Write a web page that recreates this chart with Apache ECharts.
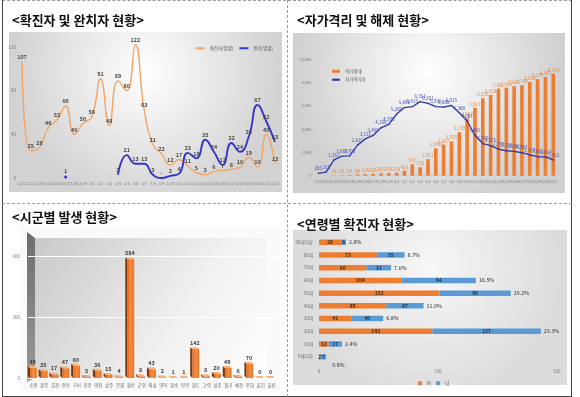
<!DOCTYPE html>
<html>
<head>
<meta charset="utf-8">
<script src="https://cdn.jsdelivr.net/npm/echarts@6/dist/echarts.min.js"></script>
<style>
  body { margin: 0; width: 580px; height: 397px; background: #fff; position: relative; overflow: hidden; }
  .c { position: absolute; }
  #c1 { left: 0; top: 0; width: 287px; height: 203px; }
  #c2 { left: 287px; top: 0; width: 293px; height: 203px; }
  #c3 { left: 0; top: 203px; width: 287px; height: 194px; }
  #c4 { left: 287px; top: 203px; width: 293px; height: 194px; }
  .ln { position: absolute; }
</style>
</head>
<body>
<div id="c1" class="c"></div>
<div id="c2" class="c"></div>
<div id="c3" class="c"></div>
<div id="c4" class="c"></div>
<div class="ln" style="left:2px;top:0;width:570px;border-top:1px dashed #9a9a9a"></div>
<div class="ln" style="left:2px;top:0;height:397px;border-left:1px solid #444"></div>
<div class="ln" style="left:571px;top:0;height:397px;border-left:1px solid #444"></div>
<div class="ln" style="left:2px;top:396px;width:570px;border-top:1px solid #444"></div>
<div class="ln" style="left:287px;top:0;height:397px;border-left:1px dashed #9a9a9a"></div>
<div class="ln" style="left:2px;top:203px;width:570px;border-top:1px dashed #9a9a9a"></div>
<script>
// chart 1: daily confirmed / recovered
const days1 = ['2/22','2/23','2/24','2/25','2/26','2/27','2/28','2/29','3/1','3/2','3/3','3/4','3/5','3/6','3/7',
  '3/8','3/9','3/10','3/11','3/12','3/13','3/14','3/15','3/16','3/17','3/18','3/19','3/20','3/21','3/22'];
const confirmed = [107,25,28,46,53,66,40,50,56,91,48,89,80,122,63,31,22,12,17,11,5,3,6,7,8,10,19,10,40,13];
const recovered = [null,null,null,null,null,1,null,null,null,null,null,3,21,13,13,3,0,2,4,23,18,35,24,12,32,24,38,67,52,33];

// chart 2: self-quarantine
const days2 = ['2/20','2/21','2/22','2/23','2/24','2/25','2/26','2/27','2/28','2/29','3/1','3/2','3/3','3/4','3/5','3/6',
  '3/7','3/8','3/9','3/10','3/11','3/12','3/13','3/14','3/15','3/16','3/17','3/18','3/19','3/20','3/21'];
const released = [null,null,25,32,57,98,126,166,203,225,254,421,971,720,1413,2340,2667,2935,3719,4907,5817,6633,6920,7461,7542,7668,7750,8030,8279,8462,8750];
const quarantined = [205,315,1351,1669,1703,2620,3151,3450,4106,4390,5288,5842,5915,6351,6201,5926,5880,6015,5388,4687,3465,2750,2575,2270,2138,2086,1967,1774,1625,1614,1353];

// chart 3: by region
const regions = ['포항','경주','김천','안동','구미','영주','영천','상주','문경','경산','군위','의성','영덕','청송','영양','청도','고령','성주','칠곡','예천','봉화','울진','울릉'];
const cases = [49,35,17,47,60,5,36,15,4,584,8,43,2,1,1,142,8,20,49,6,70,0,0];

// chart 4: by age
const ages = ['90대이상','80대','70대','60대','50대','40대','30대','20대','10대','9세이하'];
const female = [28,73,60,104,152,85,41,143,12,2];
const male = [6,35,31,94,90,47,40,137,17,7];
const share = ['2.8%','8.7%','7.6%','16.5%','20.2%','11.0%','6.8%','23.3%','2.4%','0.8%'];

const FONT = '"Noto Sans CJK KR", "Noto Sans", sans-serif';
const ORANGE = '#ED7D31';

function mk(id, option) {
  const chart = echarts.init(document.getElementById(id), null, { renderer: 'canvas' });
  option.animation = false;
  option.textStyle = { fontFamily: FONT };
  chart.setOption(option);
  return chart;
}

function title(text, left, top) {
  return { text, left, top, textStyle: { fontSize: 13, fontWeight: 'bold', color: '#111', fontFamily: FONT } };
}

function panel(x, y, w, h, fill) {
  return { type: 'rect', silent: true, z: -10, shape: { x, y, width: w, height: h }, style: { fill } };
}

const radial = (a, b) => new echarts.graphic.RadialGradient(0.5, 0.25, 0.85, [
  { offset: 0, color: a }, { offset: 1, color: b }]);

const tiny = { fontSize: 4.5, color: '#7a7a7a' };

// ---------- chart 1
mk('c1', {
  title: title('<확진자 및 완치자 현황>', 7, 9),
  graphic: [panel(9, 32, 273, 160, radial('#ffffff', '#d2d2d2'))],
  legend: {
    right: 9, top: 41, itemWidth: 9, itemHeight: 2, itemGap: 6,
    textStyle: { fontSize: 4.5, color: '#555' },
    data: [{ name: '확진자(일별)', icon: 'rect' }, { name: '완치(일별)', icon: 'rect' }]
  },
  grid: { left: 22, right: 12, top: 47, bottom: 25 },
  xAxis: {
    type: 'category', data: days1, boundaryGap: false,
    axisLine: { show: false }, axisTick: { show: false },
    axisLabel: { ...tiny, fontSize: 4, margin: 3, interval: 0 }
  },
  yAxis: {
    type: 'value', min: 0, max: 120, interval: 40,
    splitLine: { show: false },
    axisLabel: { ...tiny, margin: 6 }
  },
  series: [
    {
      name: '확진자(일별)', type: 'line', data: confirmed, smooth: 0.5, clip: false,
      symbol: 'circle', symbolSize: 0, showSymbol: true,
      lineStyle: { color: '#F2A566', width: 1.4 }, itemStyle: { color: '#F2A566' },
      label: { show: true, position: 'top', distance: 2, fontSize: 5.5, fontWeight: 'bold', color: '#4a4a4a' }
    },
    {
      name: '완치(일별)', type: 'line', smooth: 0.5, clip: false,
      data: recovered.map((v, i) => i === 5 ? { value: v, symbolSize: 3 } : v),
      symbol: 'circle', symbolSize: 0, showSymbol: true,
      lineStyle: { color: '#3535C8', width: 1.9 }, itemStyle: { color: '#3535C8' },
      label: {
        show: true, position: 'top', distance: 2, fontSize: 5.5, fontWeight: 'bold', color: '#4a4a4a',
        formatter: p => p.value === 0 ? '-' : p.value
      }
    }
  ]
});

// ---------- chart 2
mk('c2', {
  title: title('<자가격리 및 해제 현황>', 5, 9),
  graphic: [panel(6, 33, 272, 160, radial('#ffffff', '#d0d0d0'))],
  legend: {
    orient: 'vertical', left: 39, top: 64, itemWidth: 8, itemHeight: 3, itemGap: 4,
    textStyle: { fontSize: 4.5, color: '#555' },
    data: [{ name: '격리해제', icon: 'rect' }, { name: '자가격리자' }]
  },
  grid: { left: 27.4, right: 22.8, top: 59, bottom: 27.3 },
  xAxis: {
    type: 'category', data: days2,
    axisLine: { lineStyle: { color: '#cfcfcf' } }, axisTick: { show: false },
    axisLabel: { ...tiny, fontSize: 4, margin: 4, interval: 0 }
  },
  yAxis: {
    type: 'value', min: 0, max: 10000, interval: 2000,
    splitLine: { show: false },
    axisLabel: { ...tiny, fontSize: 4, margin: 3, formatter: v => v.toLocaleString('en-US') }
  },
  series: [
    {
      name: '격리해제', type: 'bar', data: released, barWidth: 3.6,
      itemStyle: { color: ORANGE },
      label: {
        show: true, position: 'top', distance: 1.5, fontSize: 4.5, color: '#E8863F',
        formatter: p => p.value.toLocaleString('en-US')
      }
    },
    {
      name: '자가격리자', type: 'line', data: quarantined,
      symbol: 'circle', symbolSize: 1.5, showSymbol: true,
      lineStyle: { color: '#2E3BA0', width: 1.3 }, itemStyle: { color: '#2E3BA0' },
      label: {
        show: true, position: 'top', distance: 2, fontSize: 4.5, color: '#3A48B0',
        formatter: p => p.value.toLocaleString('en-US')
      }
    }
  ]
});

// ---------- chart 3 (pseudo 3D columns)
const wallGrad = new echarts.graphic.LinearGradient(0, 0, 1, 1, [
  { offset: 0, color: '#c9c9c9' }, { offset: 0.6, color: '#f0f0f0' }, { offset: 1, color: '#ffffff' }]);
const frontGrad = new echarts.graphic.LinearGradient(0, 0, 1, 0, [
  { offset: 0, color: '#E8691C' }, { offset: 0.5, color: '#F58D42' }, { offset: 1, color: '#E5741F' }]);

mk('c3', {
  title: title('<시군별 발생 현황>', 7, 3),
  graphic: [
    panel(20, 23, 260, 167, '#fafafa'),
    panel(35, 35, 232, 140, wallGrad),
    {
      type: 'polygon', silent: true, z: -5,
      shape: { points: [[27, 29], [35, 35], [35, 175], [27, 179]] },
      style: { fill: new echarts.graphic.LinearGradient(0, 0, 0, 1, [
        { offset: 0, color: '#6d6d6d' }, { offset: 1, color: '#9a9a9a' }]) }
    }
  ],
  grid: { left: 28, right: 10, top: 53, bottom: 19 },
  xAxis: {
    type: 'category', data: regions,
    axisLine: { show: false }, axisTick: { show: false },
    axisLabel: { ...tiny, fontSize: 4.5, color: '#666', margin: 5, interval: 0 }
  },
  yAxis: {
    type: 'value', min: 0, max: 600, interval: 300,
    splitLine: { lineStyle: { color: '#ffffff', width: 1 } },
    axisLabel: { ...tiny, fontSize: 4.5, margin: 8 }
  },
  series: [{
    type: 'custom',
    data: cases.map((v, i) => [i, v]),
    encode: { x: 0, y: 1 },
    renderItem: (params, api) => {
      const v = api.value(1);
      const top = api.coord([api.value(0), v]);
      const bot = api.coord([api.value(0), 0]);
      const w = api.size([1, 0])[0] * 0.62;
      const x0 = top[0] - w / 2, x1 = top[0] + w / 2;
      const dx = -2.2, dy = -2;
      return {
        type: 'group',
        children: [
          { type: 'polygon', shape: { points: [[x0, bot[1]], [x0, top[1]], [x0 + dx, top[1] + dy], [x0 + dx, bot[1] + dy]] },
            style: { fill: '#7a360c' } },
          { type: 'polygon', shape: { points: [[x0, top[1]], [x1, top[1]], [x1 + dx, top[1] + dy], [x0 + dx, top[1] + dy]] },
            style: { fill: '#F7B07A' } },
          { type: 'rect', shape: { x: x0, y: top[1], width: w, height: bot[1] - top[1] }, style: { fill: frontGrad } },
          { type: 'text', x: top[0] - 1, y: top[1] - 3.5,
            style: { text: String(v), fontSize: 5.5, fontWeight: 'bold', fill: '#404040', align: 'center',
              verticalAlign: 'bottom', fontFamily: FONT } }
        ]
      };
    }
  }]
});

// ---------- chart 4
const totals = female.map((f, i) => f + male[i]);
mk('c4', {
  title: title('<연령별 확진자 현황>', 5, 10),
  graphic: [panel(6, 27, 274, 155, radial('#f7f7f7', '#dcdcdc'))],
  legend: {
    left: 'center', top: 173, itemWidth: 4, itemHeight: 4, itemGap: 5,
    textStyle: { fontSize: 4.5, color: '#555' },
    data: ['여', '남']
  },
  grid: { left: 32, right: 23.3, top: 32.9, bottom: 33.9 },
  xAxis: {
    type: 'value', min: 0, max: 300, interval: 150,
    splitLine: { show: false },
    axisLabel: { ...tiny, margin: 6 }
  },
  yAxis: {
    type: 'category', data: ages, inverse: true,
    axisLine: { show: false }, axisTick: { show: false },
    axisLabel: { ...tiny, color: '#6a6a6a', margin: 6 }
  },
  series: [
    {
      name: '여', type: 'bar', stack: 'a', data: female, barWidth: 5.5,
      itemStyle: { color: ORANGE },
      label: { show: true, position: 'inside', fontSize: 5, fontWeight: 'bold', color: '#3a2a1a' }
    },
    {
      name: '남', type: 'bar', stack: 'a', data: male, barWidth: 5.5,
      itemStyle: { color: '#5B9BD5' },
      label: { show: true, position: 'inside', fontSize: 5, fontWeight: 'bold', color: '#1f2f4a' }
    },
    {
      name: 'share', type: 'scatter', symbolSize: 0, silent: true,
      data: totals.map((t, i) => i === ages.length - 1
        ? { value: [t, ages[i]], label: { offset: [3, 8] } }
        : [t, ages[i]]),
      label: {
        show: true, position: 'right', distance: 3, fontSize: 5, fontWeight: 'bold', color: '#404040',
        formatter: p => share[p.dataIndex]
      }
    }
  ]
});
</script>
</body>
</html>
